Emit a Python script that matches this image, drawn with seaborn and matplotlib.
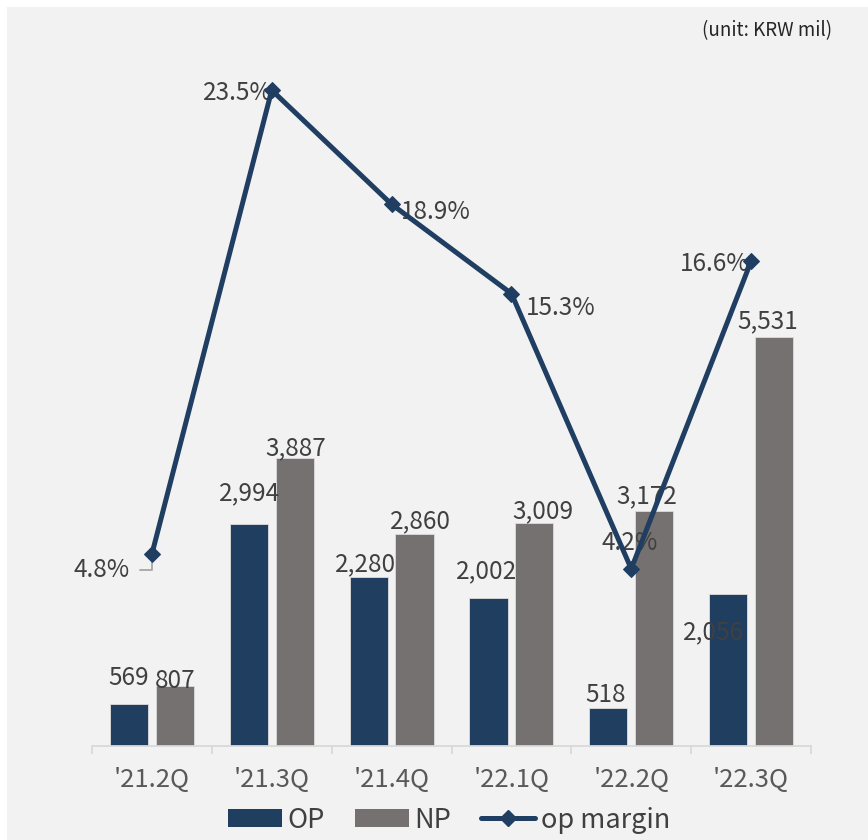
import matplotlib
matplotlib.use("Agg")
import matplotlib.pyplot as plt
import matplotlib.patches as mpatches
import matplotlib.lines as mlines
import numpy as np
import pandas as pd
import seaborn as sns

quarters = ["'21.2Q", "'21.3Q", "'21.4Q", "'22.1Q", "'22.2Q", "'22.3Q"]
op = [569, 2994, 2280, 2002, 518, 2056]
np_vals = [807, 3887, 2860, 3009, 3172, 5531]
op_margin = [4.8, 23.5, 18.9, 15.3, 4.2, 16.6]

NAVY = "#203e5f"
GRAY = "#767171"
LINE = "#1f3e62"
TXT = "#404040"

# label offsets (px) from bar top / line point: (dx, dy), up is positive
op_off = [(0, 26), (1, 31), (-3, 13), (-2, 27), (-3, 13), (-15, -38)]
np_off = [(0, 5), (1, 10), (6, 13), (8, 12), (-7, 15), (-6, 15)]
pct_off = [(-50, -16), (-34, -3), (44, -8), (49, -14), (-2, 26), (-36, -3)]

sns.set_theme(style="white")
plt.rcParams['font.family'] = ['Noto Sans CJK KR', 'DejaVu Sans']

fig = plt.figure(figsize=(8.68, 8.40), dpi=100, facecolor="white")
fig.patches.append(mpatches.Rectangle((7 / 868, 0), 1, 1 - 7 / 840, transform=fig.transFigure,
                                      facecolor="#f2f2f2", edgecolor="none", zorder=-10))

ax = fig.add_axes([92 / 868, 1 - 746 / 840, 719 / 868, 706 / 840])
ax.patch.set_alpha(0)

df = pd.DataFrame({
    "quarter": quarters * 2,
    "value": op + np_vals,
    "type": ["OP"] * 6 + ["NP"] * 6,
})
sns.barplot(data=df, x="quarter", y="value", hue="type", palette=[NAVY, GRAY],
            saturation=1, width=0.767, gap=0.17, ax=ax, edgecolor="#dcdcdc",
            linewidth=0.6, legend=False, zorder=2)

px_per_unit = 0.074
ax.set_ylim(0, 706 / px_per_unit)
ax.set_xlim(-0.5, 5.5)
ax.set_xlabel("")
ax.set_ylabel("")
ax.set_yticks([])
for s in ["top", "left", "right"]:
    ax.spines[s].set_visible(False)
ax.spines["bottom"].set_color("#d9d9d9")
ax.spines["bottom"].set_linewidth(1.3)
ax.set_xticks(np.arange(-0.5, 6, 1), minor=True)
ax.tick_params(axis="x", which="major", length=0, pad=15, labelsize=18.5, labelcolor="#595959")
ax.tick_params(axis="x", which="minor", length=6, width=1.3, color="#d9d9d9", bottom=True)

slot = 0.767 / 2
for i in range(6):
    for vals, offs, shift in [(op, op_off, -slot / 2), (np_vals, np_off, slot / 2)]:
        dx, dy = offs[i]
        ax.annotate(f"{vals[i]:,}", xy=(i + shift, vals[i]), xytext=(dx * 0.72, dy * 0.72),
                    textcoords="offset points", ha="center", va="center",
                    fontsize=17.5, color=TXT, zorder=5)

ax2 = ax.twinx()
px_per_pct = 24.8
bottom_pct = -73 / px_per_pct
ax2.set_ylim(bottom_pct, bottom_pct + 706 / px_per_pct)
sns.lineplot(x=np.arange(6), y=op_margin, ax=ax2, color=LINE, linewidth=3.6,
             marker="D", markersize=8, markeredgecolor=LINE, zorder=4)
ax2.set_yticks([])
ax2.set_ylabel("")
for s in ax2.spines.values():
    s.set_visible(False)

for i, v in enumerate(op_margin):
    dx, dy = pct_off[i]
    if i == 0:
        ax2.annotate(f"{v}%", xy=(i, v), xytext=(dx * 0.72, dy * 0.72),
                     textcoords="offset points", ha="center", va="center",
                     fontsize=17.5, color=TXT,
                     arrowprops=dict(arrowstyle="-", color="#a6a6a6", lw=1.3,
                                     connectionstyle="angle,angleA=0,angleB=90,rad=0",
                                     shrinkA=5, shrinkB=0))
    else:
        ax2.annotate(f"{v}%", xy=(i, v), xytext=(dx * 0.72, dy * 0.72),
                     textcoords="offset points", ha="center", va="center",
                     fontsize=17.5, color=TXT)

fig.text(832 / 868, 1 - 31 / 840, "(unit: KRW mil)", ha="right", va="center",
         fontsize=13.5, color="#262626")

handles = [
    mpatches.Patch(facecolor=NAVY, edgecolor="none", label="OP"),
    mpatches.Patch(facecolor=GRAY, edgecolor="none", label="NP"),
    mlines.Line2D([], [], color=LINE, linewidth=3.6, marker="D", markersize=8, label="op margin"),
]
fig.legend(handles=handles, loc="center", bbox_to_anchor=(449 / 868, 1 - 820 / 840), ncol=3,
           frameon=False, fontsize=19.5, handlelength=2.0, handleheight=0.66,
           handletextpad=0.2, columnspacing=1.1, labelcolor="#404040")

fig.savefig("out.png", dpi=100, facecolor=fig.get_facecolor())
